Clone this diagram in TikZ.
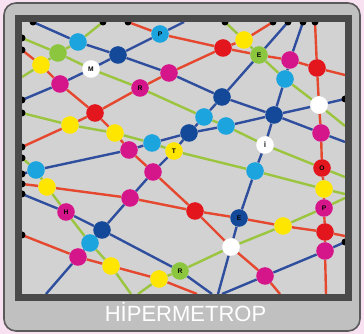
\documentclass[tikz,border=0pt]{standalone}
\usepackage{fontspec}
\setsansfont{Liberation Sans}
\usetikzlibrary{backgrounds}

\definecolor{pinkbg}{HTML}{F8E2F1}
\definecolor{panel}{HTML}{C0C0C0}
\definecolor{panelline}{HTML}{5A5A5A}
\definecolor{screen}{HTML}{D2D2D2}
\definecolor{framegray}{HTML}{4A4A4A}
\definecolor{lred}{HTML}{E5482E}
\definecolor{lblue}{HTML}{2F4F9E}
\definecolor{lgreen}{HTML}{9CC53F}
\definecolor{dred}{HTML}{E3161E}
\definecolor{dyellow}{HTML}{FFE600}
\definecolor{dmagenta}{HTML}{D5168B}
\definecolor{dcyan}{HTML}{1CA4DF}
\definecolor{dnavy}{HTML}{14499A}
\definecolor{dgreen}{HTML}{8CC63F}

\begin{document}
\begin{tikzpicture}[x=0.75pt,y=-0.75pt,
  dot/.style={circle,inner sep=0pt,minimum size=13.2pt,
    font=\sffamily\bfseries\fontsize{5}{5}\selectfont},
  redline/.style={draw=lred,line width=1.8pt},
  blueline/.style={draw=lblue,line width=1.8pt},
  greenline/.style={draw=lgreen,line width=1.8pt}]
  \useasboundingbox (0,0) rectangle (364,334);

  % red dots
  \node[dot,fill=dred] (r1) at (223,48) {};
  \node[dot,fill=dred] (r2) at (317,68) {};
  \node[dot,fill=dred] (r3) at (95,113) {};
  \node[dot,fill=dred] (r4) at (195,211) {};
  \node[dot,fill=dred] (r5) at (325,232) {};
  \node[dot,fill=dred] (lO) at (322,168) {O};
  % yellow dots
  \node[dot,fill=dyellow] (y1) at (244,40) {};
  \node[dot,fill=dyellow] (y2) at (41,65) {};
  \node[dot,fill=dyellow] (y3) at (70,125) {};
  \node[dot,fill=dyellow] (y4) at (115,133) {};
  \node[dot,fill=dyellow] (y5) at (324,189) {};
  \node[dot,fill=dyellow] (y6) at (47,187) {};
  \node[dot,fill=dyellow] (y7) at (283,226) {};
  \node[dot,fill=dyellow] (y8) at (111,266) {};
  \node[dot,fill=dyellow] (y9) at (159,279) {};
  \node[dot,fill=dyellow] (lT) at (174,151) {T};
  % magenta dots
  \node[dot,fill=dmagenta] (m1) at (169,73) {};
  \node[dot,fill=dmagenta] (m2) at (290,60) {};
  \node[dot,fill=dmagenta] (m3) at (60,84) {};
  \node[dot,fill=dmagenta] (m4) at (321,133) {};
  \node[dot,fill=dmagenta] (m5) at (129,150) {};
  \node[dot,fill=dmagenta] (m6) at (153,172) {};
  \node[dot,fill=dmagenta] (m7) at (130,198) {};
  \node[dot,fill=dmagenta] (m8) at (78,257) {};
  \node[dot,fill=dmagenta] (m9) at (265,276) {};
  \node[dot,fill=dmagenta] (m10) at (325,251) {};
  \node[dot,fill=dmagenta] (lR) at (140,88) {R};
  \node[dot,fill=dmagenta] (lH) at (66,212) {H};
  \node[dot,fill=dmagenta] (lP2) at (324,208) {P};
  % light blue dots
  \node[dot,fill=dcyan] (c1) at (78,42) {};
  \node[dot,fill=dcyan] (c2) at (285,79) {};
  \node[dot,fill=dcyan] (c3) at (204,117) {};
  \node[dot,fill=dcyan] (c4) at (226,126) {};
  \node[dot,fill=dcyan] (c5) at (152,143) {};
  \node[dot,fill=dcyan] (c6) at (255,171) {};
  \node[dot,fill=dcyan] (c7) at (36,170) {};
  \node[dot,fill=dcyan] (c8) at (90,243) {};
  \node[dot,fill=dcyan] (lP) at (160,34) {P};
  % dark blue dots
  \node[dot,fill=dnavy] (n1) at (118,55) {};
  \node[dot,fill=dnavy] (n2) at (222,97) {};
  \node[dot,fill=dnavy] (n3) at (274,115) {};
  \node[dot,fill=dnavy] (n4) at (189,133) {};
  \node[dot,fill=dnavy] (n5) at (102,230) {};
  \node[dot,fill=dnavy] (lE2) at (239,218) {E};
  % green and white dots
  \node[dot,fill=dgreen] (g1) at (58,53) {};
  \node[dot,fill=dgreen] (lE) at (259,55) {E};
  \node[dot,fill=dgreen] (lR2) at (180,271) {R};
  \node[dot,fill=white] (w1) at (319,105) {};
  \node[dot,fill=white] (w2) at (231,247) {};
  \node[dot,fill=white] (lM) at (91,69) {M};
  \node[dot,fill=white] (lI) at (265,145) {İ};

  % line ends on the screen edge
  \foreach \x in {33,103,128,184,225,273,288,303,315}
    \coordinate (top\x) at (\x,22);
  \foreach \y in {38,50,77,100,113,147,158,174,184,194,235}
    \coordinate (lft\y) at (22,\y);
  \foreach \y in {75,99,126,142,177,194,198,236,242}
    \coordinate (rgt\y) at (345,\y);
  \foreach \x in {46,131,138,197,212,218,222,280,326}
    \coordinate (bot\x) at (\x,294);

  \begin{pgfonlayer}{background}
    \fill[pinkbg] (0,0) rectangle (364,334);
    \draw[fill=panel,draw=panelline,line width=1.2pt,rounded corners=9pt]
      (4,3) rectangle (360,331);
    \fill[screen] (22,22) rectangle (345,294);
    % red lines
    \draw[redline] (lft147) -- (y3) -- (r3) -- (lR) -- (m1) -- (r1) -- (y1) -- (top273);
    \draw[redline] (top128) -- (lP) -- (r1) -- (lE) -- (m2) -- (r2) -- (rgt75);
    \draw[redline] (top315) -- (r2) -- (w1) -- (m4) -- (lO) -- (y5) -- (lP2) -- (r5) -- (m10) -- (bot326);
    \draw[redline] (lft50) -- (y2) -- (m3) -- (r3) -- (y4) -- (m5) -- (m6) -- (r4) -- (w2) -- (m9) -- (bot280);
    \draw[redline] (lft184) -- (y6) -- (m7) -- (r4) -- (lE2) -- (y7) -- (r5) -- (rgt236);
    \draw[redline] (lft235) -- (m8) -- (y8) -- (y9) -- (bot197);
    % blue lines
    \draw[blueline] (top33) -- (c1) -- (n1) -- (m1) -- (n2) -- (n3) -- (m4) -- (rgt142);
    \draw[blueline] (lft100) -- (m3) -- (lM) -- (n1) -- (lP) -- (top184);
    \draw[blueline] (top288) -- (lE) -- (n2) -- (c3) -- (n4) -- (lT) -- (m6) -- (m7) -- (n5) -- (c8) -- (m8) -- (bot46);
    \draw[blueline] (top303) -- (m2) -- (c2) -- (n3) -- (lI) -- (c6) -- (lE2) -- (w2) -- (bot218);
    \draw[blueline] (rgt99) -- (w1) -- (n3) -- (c4) -- (n4) -- (c5) -- (m5) -- (c7) -- (lft174);
    \draw[blueline] (lft194) -- (lH) -- (n5) -- (lR2) -- (bot212);
    \draw[blueline] (rgt242) -- (m10) -- (m9) -- (bot222);
    % green lines
    \draw[greenline] (top103) -- (c1) -- (g1) -- (y2) -- (lft77);
    \draw[greenline] (lft38) -- (g1) -- (lM) -- (lR) -- (c3) -- (c4) -- (lI) -- (lO) -- (rgt177);
    \draw[greenline] (lft113) -- (y3) -- (y4) -- (c5) -- (lT) -- (c6) -- (y5) -- (rgt194);
    \draw[greenline] (top225) -- (y1) -- (lE) -- (c2) -- (w1) -- (rgt126);
    \draw[greenline] (lft158) -- (c7) -- (y6) -- (lH) -- (c8) -- (y8) -- (bot131);
    \draw[greenline] (bot138) -- (y9) -- (lR2) -- (w2) -- (y7) -- (lP2) -- (rgt198);
    % small black stops
    \foreach \c in {top33,top103,top128,top225,top273,top288,top303,top315,
      lft38,lft50,lft100,lft113,lft147,lft158,lft174,lft184,lft194,lft235,
      rgt99,rgt242}
      \fill[black] (\c) circle (3.5);
  \end{pgfonlayer}

  \draw[framegray,line width=5.5pt] (18.5,18.5) rectangle (348.5,297.5);
  \node[anchor=base,text=white,font=\sffamily\fontsize{16.5}{18}\selectfont]
    (title) at (185.5,322) {HİPERMETROP};
\end{tikzpicture}
\end{document}
